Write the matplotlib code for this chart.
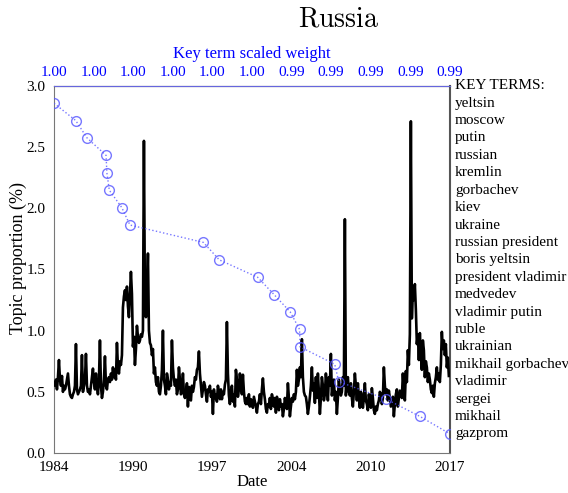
import numpy as np
import matplotlib
matplotlib.use("Agg")
import matplotlib.pyplot as plt

plt.rcParams['font.family'] = ['Liberation Serif', 'DejaVu Serif']
plt.rcParams['mathtext.fontset'] = 'cm'

# monthly topic proportion (%), Jan 1984 .. Dec 2016
topic_1984 = [0.57, 0.55, 0.60, 0.52, 0.62, 0.76, 0.60, 0.55, 0.63, 0.50, 0.55, 0.52]
topic_1985 = [0.55, 0.60, 0.65, 0.55, 0.48, 0.46, 0.45, 0.48, 0.50, 0.55, 0.89, 0.52]
topic_1986 = [0.48, 0.50, 0.52, 0.55, 0.80, 0.50, 0.55, 0.60, 0.81, 0.55, 0.50, 0.52]
topic_1987 = [0.48, 0.55, 0.62, 0.69, 0.58, 0.52, 0.65, 0.55, 0.48, 0.60, 0.92, 0.55]
topic_1988 = [0.45, 0.50, 0.60, 0.79, 0.55, 0.52, 0.60, 0.62, 0.58, 0.65, 0.60, 0.70]
topic_1989 = [0.62, 0.68, 0.60, 0.90, 0.70, 0.65, 0.75, 0.72, 0.80, 1.19, 1.28, 1.33]
topic_1990 = [1.25, 1.36, 1.20, 1.11, 1.30, 1.48, 1.30, 0.87, 0.95, 0.72, 0.85, 1.04]
topic_1991 = [0.95, 0.90, 0.92, 0.97, 0.95, 1.00, 2.55, 1.20, 1.11, 1.30, 1.63, 1.00]
topic_1992 = [0.90, 0.88, 0.80, 0.85, 0.65, 0.70, 0.58, 0.55, 0.62, 0.50, 0.48, 0.55]
topic_1993 = [0.68, 1.00, 0.60, 0.55, 0.48, 0.65, 0.60, 0.52, 0.58, 0.55, 0.92, 0.70]
topic_1994 = [0.60, 0.55, 0.60, 0.48, 0.52, 0.70, 0.60, 0.48, 0.50, 0.65, 0.48, 0.45]
topic_1995 = [0.49, 0.57, 0.38, 0.54, 0.45, 0.43, 0.55, 0.50, 0.54, 0.62, 0.60, 0.68]
topic_1996 = [0.70, 0.83, 0.65, 0.55, 0.46, 0.52, 0.58, 0.55, 0.48, 0.42, 0.52, 0.50]
topic_1997 = [0.55, 0.46, 0.50, 0.32, 0.52, 0.45, 0.48, 0.42, 0.55, 0.50, 0.44, 0.52]
topic_1998 = [0.44, 0.50, 0.48, 0.56, 0.60, 1.07, 0.65, 0.47, 0.40, 0.50, 0.55, 0.42]
topic_1999 = [0.48, 0.38, 0.68, 0.60, 0.46, 0.52, 0.65, 0.55, 0.48, 0.64, 0.50, 0.42]
topic_2000 = [0.40, 0.45, 0.40, 0.48, 0.38, 0.44, 0.40, 0.37, 0.46, 0.42, 0.38, 0.33]
topic_2001 = [0.40, 0.42, 0.48, 0.40, 0.52, 0.61, 0.50, 0.44, 0.36, 0.33, 0.40, 0.38]
topic_2002 = [0.45, 0.36, 0.48, 0.44, 0.38, 0.45, 0.33, 0.46, 0.42, 0.35, 0.44, 0.38]
topic_2003 = [0.40, 0.30, 0.36, 0.45, 0.40, 0.36, 0.57, 0.45, 0.30, 0.38, 0.45, 0.42]
topic_2004 = [0.48, 0.44, 0.50, 0.68, 0.55, 0.60, 0.70, 0.62, 0.93, 0.62, 0.50, 0.47]
topic_2005 = [0.46, 0.40, 0.32, 0.38, 0.46, 0.55, 0.70, 0.51, 0.57, 0.41, 0.62, 0.45]
topic_2006 = [0.65, 0.50, 0.32, 0.45, 0.62, 0.55, 0.43, 0.48, 0.65, 0.55, 0.43, 0.62]
topic_2007 = [0.55, 0.81, 0.47, 0.55, 0.60, 0.43, 0.50, 0.32, 0.45, 0.60, 0.52, 0.47]
topic_2008 = [0.50, 0.62, 0.55, 1.91, 0.47, 0.58, 0.62, 0.50, 0.47, 0.57, 0.45, 0.38]
topic_2009 = [0.50, 0.65, 0.55, 0.43, 0.57, 0.45, 0.37, 0.50, 0.47, 0.37, 0.45, 0.57]
topic_2010 = [0.43, 0.40, 0.35, 0.48, 0.42, 0.37, 0.53, 0.45, 0.35, 0.32, 0.38, 0.35]
topic_2011 = [0.40, 0.43, 0.50, 0.48, 0.40, 0.45, 0.70, 0.55, 0.48, 0.52, 0.43, 0.51]
topic_2012 = [0.45, 0.38, 0.42, 0.46, 0.30, 0.40, 0.48, 0.52, 0.38, 0.45, 0.51, 0.48]
topic_2013 = [0.45, 0.65, 0.52, 0.43, 0.67, 0.58, 0.84, 0.72, 0.97, 2.71, 1.10, 1.36]
topic_2014 = [1.25, 1.38, 1.17, 0.89, 0.97, 0.76, 0.98, 0.80, 0.68, 0.92, 0.84, 0.62]
topic_2015 = [0.75, 0.70, 0.58, 0.65, 0.60, 0.52, 0.49, 0.55, 0.46, 0.57, 0.62, 0.70]
topic_2016 = [0.60, 0.65, 0.58, 0.72, 0.99, 0.85, 0.92, 0.80, 0.89, 0.70, 0.78, 0.63]

key_terms = ["yeltsin", "moscow", "putin", "russian", "kremlin", "gorbachev",
             "kiev", "ukraine", "russian president", "boris yeltsin",
             "president vladimir", "medvedev", "vladimir putin", "ruble",
             "ukrainian", "mikhail gorbachev", "vladimir", "sergei",
             "mikhail", "gazprom"]
key_weights = [1.0000, 0.99946, 0.99918, 0.99871, 0.99869, 0.99863,
               0.99832, 0.99812, 0.99630, 0.99591, 0.99496, 0.99455,
               0.99415, 0.99392, 0.99391, 0.99305, 0.99295, 0.99178,
               0.99094, 0.99020]

date_ticks = [1984, 1990, 1997, 2004, 2010, 2017]

topic = np.concatenate([topic_1984, topic_1985, topic_1986, topic_1987, topic_1988,
                        topic_1989, topic_1990, topic_1991, topic_1992, topic_1993,
                        topic_1994, topic_1995, topic_1996, topic_1997, topic_1998,
                        topic_1999, topic_2000, topic_2001, topic_2002, topic_2003,
                        topic_2004, topic_2005, topic_2006, topic_2007, topic_2008,
                        topic_2009, topic_2010, topic_2011, topic_2012, topic_2013,
                        topic_2014, topic_2015, topic_2016])
dates = 1984 + np.arange(len(topic)) / 12.0

fig = plt.figure(figsize=(5.68, 4.93), dpi=100)
ax = fig.add_axes([0.095, 0.081, 0.697, 0.745])

ax.plot(dates, topic, color='black', lw=1.9, zorder=3)
ax.set_xlim(1984, 2017)
ax.set_ylim(0, 3.0)
ax.set_xticks(np.linspace(1984, 2017, 6))
ax.set_xticklabels([str(d) for d in date_ticks])
ax.set_yticks(np.arange(0, 3.01, 0.5))
ax.set_yticklabels(['%.1f' % v for v in np.arange(0, 3.01, 0.5)])
ax.tick_params(length=0, labelsize=11)
ax.tick_params(axis='x', pad=6)
ax.tick_params(axis='y', pad=6)
ax.set_xlabel('Date', fontsize=12, labelpad=0)
ax.set_ylabel('Topic proportion (%)', fontsize=13)
ax.yaxis.set_label_coords(-0.068, 0.53)
for s in ['left', 'bottom']:
    ax.spines[s].set_color('#777777')
ax.spines['right'].set_color('#555555')
ax.spines['right'].set_linewidth(1.5)

# key terms on the right
step = (3.0 - 0.157) / len(key_terms)
term_y = 3.0 - step * np.arange(1, len(key_terms) + 1)
tr = ax.get_yaxis_transform()
ax.text(1.013, 3.0, 'KEY TERMS:', transform=tr, va='center', ha='left', fontsize=11)
for t, y in zip(key_terms, term_y):
    ax.text(1.013, y, t, transform=tr, va='center', ha='left', fontsize=11)

# key term weight axis on top
ax2 = ax.twiny()
ax2.set_xlim(1.0, 0.9902)
ax2.plot(key_weights, term_y, linestyle=':', color='#5555ff', lw=1.0, alpha=0.8,
         marker='o', markersize=7, markerfacecolor='none',
         markeredgecolor='#5555ff', markeredgewidth=1.0, zorder=2)
wt = np.linspace(1.0, 0.9902, 11)
ax2.set_xticks(wt)
ax2.set_xticklabels(['%.2f' % w for w in wt], color='blue')
ax2.tick_params(length=0, labelsize=11, pad=5)
ax2.set_xlabel('Key term scaled weight', color='blue', fontsize=12, labelpad=6)
ax2.spines['top'].set_color('#6666dd')
for s in ['left', 'bottom', 'right']:
    ax2.spines[s].set_visible(False)

fig.text(0.596, 0.96, r'$\mathrm{Russia}$', ha='center', va='center', fontsize=20)

fig.savefig('out.png', dpi=100)
